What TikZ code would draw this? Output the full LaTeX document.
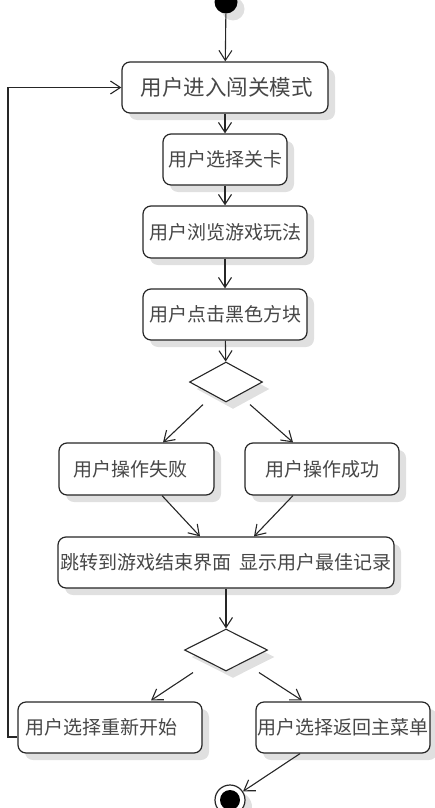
\documentclass[tikz,border=0pt]{standalone}
\usepackage{fontspec}
\newfontfamily\cjk{Noto Sans CJK SC}
\usetikzlibrary{arrows.meta,shapes.geometric,shadows,calc}
\begin{document}
\begin{tikzpicture}[x=1pt,y=-1pt,
  shd/.style={drop shadow={shadow xshift=7pt,shadow yshift=-7pt,fill=black!12,opacity=1}},
  act/.style={draw=black!85,line width=1.2pt,rounded corners=8pt,fill=white,inner sep=0pt,
    font=\cjk\fontsize{19}{19}\selectfont,text=black!72,shd},
  dec/.style={diamond,draw=black!85,line width=1.1pt,fill=white,inner sep=0pt,shd},
  flow/.style={draw=black!85,line width=1.1pt,-{Straight Barb[length=10pt,width=13pt]}}
]
\useasboundingbox (0,0) rectangle (435,808);
% start
\node[circle,fill=black,minimum size=23pt,inner sep=0pt,shd] (start) at (226,2) {};
% activities
\node[act,minimum width=206pt,minimum height=51pt,font=\cjk\fontsize{21.5}{21.5}\selectfont] (b1) at (225,87.5) {\hspace*{3pt}用户进入闯关模式};
\node[act,minimum width=124pt,minimum height=51pt] (b2) at (225,159.5) {用户选择关卡};
\node[act,minimum width=164pt,minimum height=52pt] (b3) at (225,232) {用户浏览游戏玩法};
\node[act,minimum width=164pt,minimum height=51pt] (b4) at (225,314.5) {用户点击黑色方块};
\node[dec,minimum width=73pt,minimum height=40pt] (d1) at (226,382) {};
\node[act,minimum width=155pt,minimum height=52pt,text width=141pt,inner xsep=7pt,align=left] (b5) at (136.5,469) {\hspace*{7pt}用户操作失败};
\node[act,minimum width=154pt,minimum height=52pt] (b6) at (322,469) {用户操作成功};
\node[act,minimum width=336pt,minimum height=51pt] (b7) at (226,562.5) {跳转到游戏结束界面\hspace{9pt}显示用户最佳记录};
\node[dec,minimum width=83pt,minimum height=42pt] (d2) at (226,650) {};
\node[act,minimum width=184pt,minimum height=51pt,text width=176pt,inner xsep=4pt,align=left] (b8) at (110,727.5) {\hspace*{3pt}用户选择重新开始};
\node[act,minimum width=174pt,minimum height=51pt] (b9) at (343,727.5) {用户选择返回主菜单};
% end
\node[circle,draw=black!85,line width=1.2pt,fill=white,minimum size=30pt,inner sep=0pt,shd] (endo) at (230,800) {};
\node[circle,fill=black,minimum size=20pt,inner sep=0pt] (endi) at (endo) {};
% connectors
\draw[flow] (start) -- (b1);
\draw[flow] (b1) -- (b2);
\draw[flow] (b2) -- (b3);
\draw[flow] (b3) -- (b4);
\draw[flow] (b4) -- (d1);
\coordinate (d1l) at ($(d1.south)+(-23,2)$);
\coordinate (d1r) at ($(d1.south)+(24,2)$);
\draw[flow] (d1l) -- ($(b5.north)+(26.5,0)$);
\draw[flow] (d1r) -- ($(b6.north)+(-29,0)$);
\draw[flow] ($(b5.south)+(25.5,0)$) -- ($(b7.north)+(-26,0)$);
\draw[flow] ($(b6.south)+(-29,0)$) -- ($(b7.north)+(28,0)$);
\draw[flow] (b7) -- (d2);
\coordinate (d2l) at ($(d2.south)+(-33,1)$);
\coordinate (d2r) at ($(d2.south)+(33,1)$);
\draw[flow] (d2l) -- ($(b8.north)+(41,-1)$);
\draw[flow] (d2r) -- ($(b9.north)+(-41,-1)$);
\draw[flow] ($(b9.south)+(-43,0)$) -- (endo);
\coordinate (lp) at (8,737);
\draw[flow] ($(b8.west)+(0,9.5)$) -- (lp) |- (b1.west);
\end{tikzpicture}
\end{document}
